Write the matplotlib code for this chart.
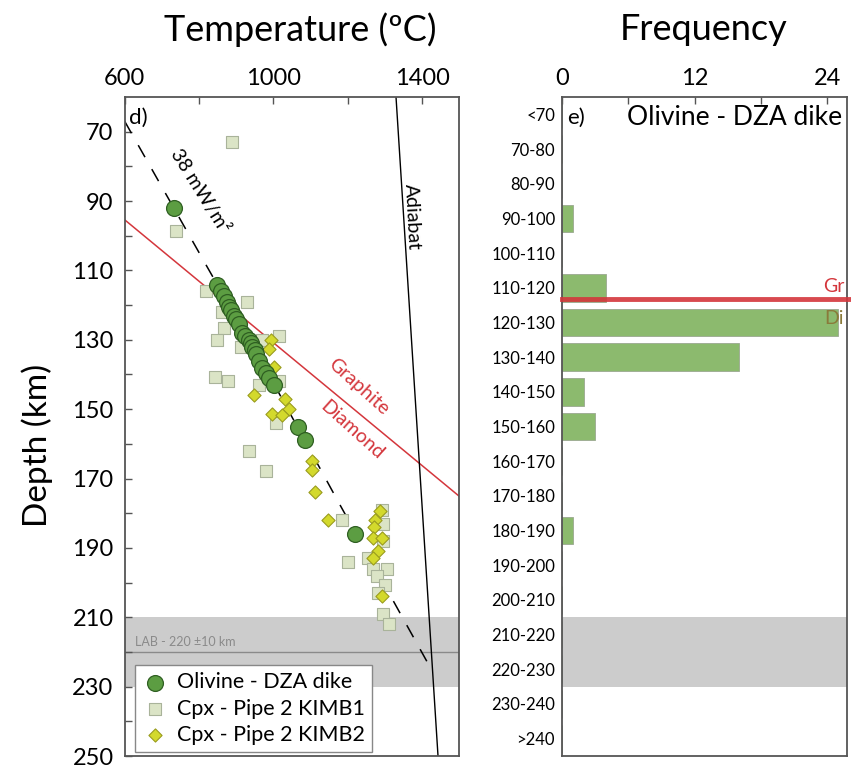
import matplotlib
matplotlib.use("Agg")
import matplotlib.pyplot as plt
import numpy as np

plt.rcParams['font.family'] = ['Lato', 'DejaVu Sans']

# ---------------- data ----------------
# Olivine - DZA dike (T degC, depth km)
oliv_T = [732, 849, 858, 868, 876, 882, 886, 893, 900, 907, 916, 925, 934, 941, 943,
          950, 954, 962, 970, 980, 989, 1003, 1065, 1084, 1219]
oliv_D = [92, 114.3, 116, 117.5, 119, 120.5, 121.5, 123, 124, 125.5, 128, 129, 130, 131, 132,
          133, 134, 136, 138, 139.5, 141, 143, 155, 159, 186]
# Cpx - Pipe 2 KIMB1
k1_T = [889, 738, 819, 930, 862, 868, 849, 913, 1016, 970, 843, 878, 962, 1016, 1008, 935, 981,
        1184, 1200, 1292, 1295, 1295, 1254, 1268, 1305, 1278, 1300, 1281, 1295, 1311]
k1_D = [73, 98.6, 116, 119, 122, 126.6, 130, 132, 129, 130, 140.6, 142, 143, 142, 154, 162, 167.7,
        182, 194, 179, 183, 188, 193, 196, 196, 198, 200.6, 203, 209, 212]
# Cpx - Pipe 2 KIMB2
k2_T = [994, 987, 1003, 949, 1030, 1043, 997, 1022, 1103, 1105, 1111, 1146, 1286, 1273, 1270,
        1268, 1292, 1281, 1268, 1292]
k2_D = [130, 132.6, 137.7, 146, 147, 150, 151.4, 151.7, 165, 167.4, 174, 182, 179.4, 182, 184,
        187, 187, 191, 193, 204]
# 38 mW/m2 geotherm
geo_T = [600, 822, 1003, 1171, 1430]
geo_D = [67, 109, 143, 176, 226]
# graphite-diamond boundary
gd_T = [600, 1500]
gd_D = [95.4, 175.1]
# adiabat
ad_T = [1330, 1443]
ad_D = [60, 250]
# LAB
lab_depth = 220
lab_range = [210, 230]
gr_di_depth = 118.3

# histogram
bin_labels = ['<70', '70-80', '80-90', '90-100', '100-110', '110-120', '120-130', '130-140',
              '140-150', '150-160', '160-170', '170-180', '180-190', '190-200', '200-210',
              '210-220', '220-230', '230-240', '>240']
bin_centers = [65, 75, 85, 95, 105, 115, 125, 135, 145, 155, 165, 175, 185, 195, 205, 215, 225, 235, 245]
counts = [0, 0, 0, 1, 0, 4, 25, 16, 2, 3, 0, 0, 1, 0, 0, 0, 0, 0, 0]

temp_ticks = [600, 800, 1000, 1200, 1400]
temp_labels = ['600', '', '1000', '', '1400']
depth_ticks = [70, 90, 110, 130, 150, 170, 190, 210, 230, 250]
freq_ticks = [0, 6, 12, 18, 24]
freq_labels = ['0', '', '12', '', '24']

red = '#d4363c'
spine_c = '#555555'

fig = plt.figure(figsize=(8.51, 7.68), dpi=100)
ax1 = fig.add_axes([0.1465, 0.0156, 0.3931, 0.8581])
ax2 = fig.add_axes([0.6604, 0.0156, 0.3349, 0.8581])

# ---------------- left panel ----------------
ax1.set_xlim(600, 1500)
ax1.set_ylim(250, 60)
ax1.axhspan(lab_range[0], lab_range[1], color='#cccccc', zorder=0, lw=0)
ax1.axhline(lab_depth, color='#8a8a8a', lw=1.0, zorder=1)
ax1.text(628, lab_depth - 1.2, 'LAB - 220 \u00b110 km', fontsize=9, color='#8a8a8a',
         va='bottom', ha='left', zorder=2)
ax1.plot(gd_T, gd_D, color=red, lw=1.1, zorder=2)
ax1.plot(ad_T, ad_D, color='black', lw=1.0, zorder=2)
ax1.plot(geo_T, geo_D, color='black', lw=1.1, dashes=(9, 9), zorder=2)

ax1.scatter(k1_T, k1_D, marker='s', s=70, facecolor='#dbe4c6', edgecolor='#a9b39a',
            linewidth=0.8, zorder=3, label='Cpx - Pipe 2 KIMB1')
ax1.scatter(k2_T, k2_D, marker='D', s=45, facecolor='#d3d92c', edgecolor='#9a9c1e',
            linewidth=0.8, zorder=4, label='Cpx - Pipe 2 KIMB2')
ax1.scatter(oliv_T, oliv_D, marker='o', s=130, facecolor='#5c9d42', edgecolor='#2f5f22',
            linewidth=0.9, zorder=5, label='Olivine - DZA dike')

ax1.text(803, 87, '38 mW/m\u00b2', rotation=-58, fontsize=14, ha='center', va='center')
ax1.text(1373, 94.6, 'Adiabat', rotation=-87, fontsize=14, ha='center', va='center')
ax1.text(1229, 143.5, 'Graphite', rotation=-42, fontsize=14, ha='center', va='center', color=red)
ax1.text(1212, 156, 'Diamond', rotation=-42, fontsize=14, ha='center', va='center', color=red)
ax1.text(612, 66, 'd)', fontsize=16, ha='left', va='center')

ax1.xaxis.tick_top()
ax1.set_xticks(temp_ticks)
ax1.set_xticklabels(temp_labels)
ax1.set_yticks(depth_ticks)
ax1.set_yticks(np.arange(80, 250, 20), minor=True)
ax1.tick_params(axis='both', which='both', direction='in', color=spine_c, labelsize=17,
                length=5, width=1)
ax1.tick_params(axis='x', pad=6)
ax1.tick_params(axis='y', pad=8)

handles, labels = ax1.get_legend_handles_labels()
order = [2, 0, 1]
leg = ax1.legend([handles[i] for i in order], [labels[i] for i in order], loc='lower left',
                 bbox_to_anchor=(0.031, 0.006), fontsize=15.5, frameon=True, fancybox=False,
                 edgecolor='#888888', framealpha=1, handletextpad=0.4, borderpad=0.35,
                 labelspacing=0.28, handlelength=1.2, borderaxespad=0.0)
leg.set_zorder(10)

for sp in ax1.spines.values():
    sp.set_color(spine_c)
    sp.set_linewidth(1.3)

# ---------------- right panel ----------------
ax2.set_xlim(0, 25.8)
ax2.set_ylim(250, 60)
ax2.axhspan(lab_range[0], lab_range[1], color='#cccccc', zorder=0, lw=0)
ax2.barh(bin_centers, counts, height=8, color='#8cba6e', edgecolor='#9aa890', linewidth=0.6,
         zorder=2)
ax2.plot([0, 1.02], [gr_di_depth, gr_di_depth], transform=ax2.get_yaxis_transform(),
         color=red, lw=3.5, zorder=3, clip_on=False, alpha=0.9)
ax2.text(24.6, gr_di_depth + 5.5, 'Di', color='#8a7a3a', fontsize=14, ha='center', va='center',
         zorder=4)
ax2.text(24.6, gr_di_depth - 3.6, 'Gr', color=red, fontsize=14, ha='center', va='center')
ax2.text(0.5, 66, 'e)', fontsize=16, ha='left', va='center')
ax2.text(25.4, 66, 'Olivine - DZA dike', fontsize=19, ha='right', va='center')

ax2.xaxis.tick_top()
ax2.set_xticks(freq_ticks)
ax2.set_xticklabels(freq_labels)
ax2.set_yticks(bin_centers)
ax2.set_yticklabels(bin_labels)
ax2.tick_params(axis='x', direction='in', color=spine_c, labelsize=17, length=5, width=1, pad=6)
ax2.tick_params(axis='y', length=0, labelsize=12, pad=5)
for sp in ax2.spines.values():
    sp.set_color(spine_c)
    sp.set_linewidth(1.3)

# ---------------- titles ----------------
fig.text(300 / 851, 1 - 30 / 768, 'Temperature (\u00baC)', fontsize=26, ha='center', va='center')
fig.text(704 / 851, 1 - 30 / 768, 'Frequency', fontsize=26, ha='center', va='center')
fig.text(37 / 851, 1 - 445 / 768, 'Depth (km)', fontsize=24, ha='center', va='center',
         rotation=90)

fig.savefig('out.png', dpi=100)
